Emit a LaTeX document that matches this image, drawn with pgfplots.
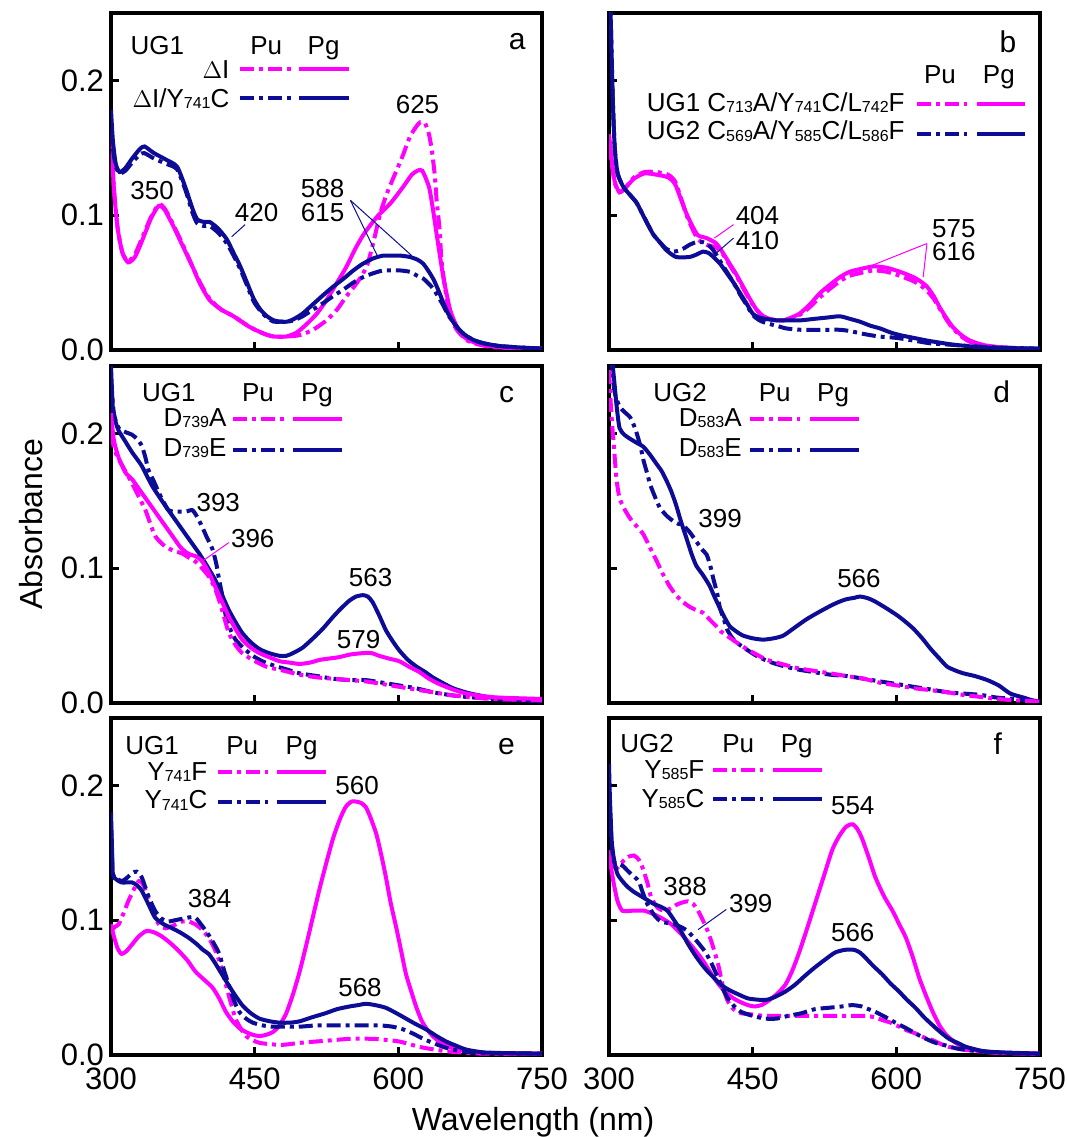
\documentclass[border=0pt]{standalone}
\usepackage{pgfplots}
\pgfplotsset{compat=1.18}
\usepackage{fontspec}
\setmainfont{Liberation Sans}
\definecolor{mg}{RGB}{255,0,255}
\definecolor{nv}{RGB}{12,12,150}
\newcommand\sbs[1]{\raisebox{-0.6pt}{\fontsize{8}{9}\selectfont #1}}
\newcommand\lf{\fontsize{13}{15}\selectfont}
\tikzset{dd/.style={dash pattern=on 7pt off 2.5pt on 2pt off 2.5pt},
  lt/.style={font=\lf, inner sep=0pt},
  ann/.style={font=\lf, inner sep=0pt},
  pl/.style={font=\fontsize{15}{17}\selectfont, inner sep=0pt, anchor=base},
  ld/.style={line width=2pt}}
\pgfplotsset{base/.style={
  width=215.5pt, height=168.5pt, scale only axis, anchor=south west,
  xmin=300, xmax=750, ymin=0, ymax=0.25,
  xtick={300,450,600,750}, ytick={0,0.1,0.2},
  tick align=inside, xtick pos=bottom, ytick pos=left,
  major tick length=4pt, every tick/.style={black, line width=1.5pt},
  axis line style={line width=1.8pt},
  clip mode=individual,
  tick label style={font=\fontsize{15.5}{17}\selectfont},
  xticklabel style={yshift=-3pt},
  /pgf/number format/assume math mode=true,
  yticklabel style={/pgf/number format/.cd, fixed, fixed zerofill, precision=1},
  every axis plot/.append style={line width=2pt, smooth, tension=0.4},
}}
\begin{document}
\begin{tikzpicture}
\path[use as bounding box] (0pt,0pt) rectangle (533.5pt,568.5pt);
% ---------------- a ----------------
\begin{axis}[base, at={(55.5pt,393.5pt)}, xticklabels={}]
\addplot[mg] coordinates {(300,0.163)(303,0.12)(307,0.09)(312,0.072)(318,0.065)(325,0.069)(333,0.082)(342,0.098)(350,0.107)(356,0.104)(365,0.092)(375,0.077)(385,0.062)(393,0.049)(403,0.037)(415,0.030)(428,0.025)(445,0.017)(460,0.012)(470,0.010)(483,0.010)(494,0.013)(504,0.019)(515,0.027)(525,0.037)(536,0.050)(546,0.062)(555,0.075)(564,0.086)(578,0.099)(592,0.109)(605,0.121)(614,0.130)(620,0.133)(625,0.133)(632,0.121)(636,0.105)(640,0.086)(647,0.054)(654,0.030)(660,0.019)(665,0.012)(672,0.008)(682,0.005)(706,0.002)(750,0.001)};
\addplot[mg,dd] coordinates {(300,0.16)(303,0.12)(307,0.09)(312,0.072)(318,0.066)(325,0.071)(333,0.084)(342,0.099)(350,0.108)(356,0.105)(365,0.093)(375,0.078)(385,0.062)(393,0.050)(403,0.038)(415,0.030)(428,0.025)(445,0.017)(460,0.012)(470,0.010)(483,0.010)(497,0.011)(511,0.015)(525,0.022)(536,0.030)(546,0.040)(557,0.050)(567,0.062)(574,0.080)(581,0.101)(588,0.116)(595,0.128)(604,0.143)(612,0.158)(619,0.166)(623,0.169)(628,0.168)(632,0.160)(635,0.148)(638,0.130)(640,0.111)(643,0.090)(645,0.067)(648,0.050)(652,0.032)(656,0.022)(661,0.015)(670,0.008)(679,0.005)(700,0.002)(750,0.001)};
\addplot[nv] coordinates {(300,0.178)(302,0.155)(305,0.138)(309,0.132)(315,0.135)(322,0.142)(330,0.149)(335,0.151)(345,0.146)(358,0.141)(369,0.136)(378,0.120)(385,0.105)(390,0.097)(397,0.095)(403,0.095)(412,0.090)(421,0.082)(428,0.072)(435,0.062)(442,0.050)(449,0.038)(456,0.030)(463,0.025)(470,0.022)(477,0.021)(484,0.021)(491,0.023)(500,0.027)(511,0.034)(522,0.041)(532,0.047)(543,0.053)(553,0.059)(563,0.064)(574,0.068)(584,0.070)(592,0.070)(602,0.070)(612,0.069)(620,0.067)(626,0.064)(632,0.058)(637,0.052)(642,0.044)(647,0.035)(652,0.027)(658,0.020)(665,0.014)(672,0.010)(680,0.007)(689,0.005)(705,0.003)(724,0.002)(750,0.001)};
\addplot[nv,dd] coordinates {(300,0.170)(302,0.150)(305,0.136)(309,0.131)(315,0.133)(322,0.139)(330,0.145)(335,0.146)(345,0.142)(358,0.138)(369,0.134)(378,0.118)(385,0.102)(390,0.094)(397,0.092)(403,0.092)(412,0.087)(421,0.079)(428,0.070)(435,0.060)(442,0.048)(449,0.036)(456,0.029)(463,0.024)(470,0.021)(477,0.021)(484,0.021)(491,0.022)(500,0.025)(511,0.030)(522,0.035)(532,0.040)(543,0.045)(553,0.050)(563,0.054)(574,0.057)(584,0.059)(592,0.059)(602,0.059)(612,0.058)(620,0.055)(626,0.053)(632,0.049)(637,0.045)(642,0.039)(647,0.033)(652,0.026)(658,0.020)(665,0.014)(672,0.010)(680,0.007)(689,0.005)(705,0.003)(724,0.002)(750,0.001)};
\node[lt, anchor=base west] at (axis cs:320,0.219) {UG1};
\node[lt, anchor=base] at (axis cs:462,0.219) {Pu};
\node[lt, anchor=base] at (axis cs:522,0.219) {Pg};
\node[lt, anchor=base east] at (axis cs:424,0.2015) {$\Delta$I};
\node[lt, anchor=base east] at (axis cs:424,0.180) {$\Delta$I/Y\sbs{741}C};
\draw[ld,mg,dd] (axis cs:435,0.2085) -- (axis cs:489,0.2085);
\draw[ld,mg] (axis cs:496,0.2085) -- (axis cs:548,0.2085);
\draw[ld,nv,dd] (axis cs:435,0.187) -- (axis cs:489,0.187);
\draw[ld,nv] (axis cs:496,0.187) -- (axis cs:548,0.187);
\node[pl] at (axis cs:724,0.2226) {a};
\node[ann] at (axis cs:343,0.118) {350};
\node[ann] at (axis cs:452,0.102) {420};
\draw[nv, line width=0.5pt] (axis cs:440,0.093) -- (axis cs:426,0.084);
\node[ann] at (axis cs:521,0.120) {588};
\node[ann] at (axis cs:521,0.102) {615};
\draw[nv, line width=0.5pt] (axis cs:550,0.111) -- (axis cs:578,0.070);
\draw[nv, line width=0.5pt] (axis cs:550,0.111) -- (axis cs:614,0.070);
\node[ann] at (axis cs:620,0.182) {625};
\end{axis}
% ---------------- b ----------------
\begin{axis}[base, at={(304.5pt,393.5pt)}, xticklabels={}, yticklabels={}]
\addplot[mg] coordinates {(300,0.160)(303,0.140)(306,0.125)(311,0.117)(318,0.121)(326,0.127)(337,0.131)(350,0.130)(362,0.128)(369,0.123)(375,0.112)(381,0.101)(387,0.092)(393,0.085)(402,0.083)(412,0.079)(419,0.072)(426,0.064)(433,0.056)(440,0.047)(447,0.038)(454,0.030)(461,0.025)(468,0.023)(475,0.022)(482,0.022)(490,0.024)(499,0.027)(510,0.034)(520,0.042)(530,0.048)(541,0.054)(551,0.058)(562,0.060)(576,0.062)(590,0.061)(604,0.058)(618,0.054)(625,0.051)(632,0.047)(639,0.040)(645,0.032)(652,0.024)(659,0.017)(668,0.011)(677,0.007)(689,0.004)(701,0.0025)(720,0.0015)(750,0.0005)};
\addplot[mg,dd] coordinates {(300,0.158)(303,0.138)(306,0.124)(311,0.117)(318,0.121)(326,0.128)(337,0.132)(350,0.132)(362,0.130)(369,0.125)(375,0.113)(381,0.100)(387,0.090)(393,0.082)(402,0.078)(412,0.076)(419,0.071)(426,0.063)(433,0.055)(440,0.046)(447,0.037)(454,0.030)(461,0.025)(468,0.023)(475,0.022)(482,0.022)(490,0.023)(499,0.026)(510,0.032)(520,0.039)(530,0.045)(541,0.051)(551,0.055)(562,0.057)(576,0.059)(590,0.058)(604,0.055)(618,0.051)(625,0.048)(632,0.044)(639,0.038)(645,0.031)(652,0.023)(659,0.016)(668,0.010)(677,0.006)(689,0.004)(701,0.0025)(720,0.0015)(750,0.0005)};
\addplot[nv] coordinates {(300,0.30)(302,0.24)(304,0.185)(306,0.150)(309,0.131)(315,0.121)(322,0.115)(329,0.109)(337,0.098)(346,0.086)(353,0.080)(360,0.074)(370,0.069)(384,0.069)(392,0.071)(398,0.073)(404,0.072)(409,0.069)(416,0.064)(423,0.057)(430,0.050)(437,0.042)(444,0.034)(450,0.027)(457,0.024)(464,0.023)(475,0.022)(485,0.022)(500,0.022)(513,0.023)(527,0.024)(541,0.025)(552,0.023)(562,0.021)(573,0.018)(583,0.016)(594,0.013)(604,0.011)(618,0.009)(632,0.007)(645,0.0055)(659,0.004)(673,0.003)(687,0.002)(710,0.0015)(750,0.001)};
\addplot[nv,dd] coordinates {(300,0.30)(302,0.24)(304,0.185)(306,0.150)(309,0.131)(315,0.121)(322,0.115)(329,0.109)(337,0.098)(346,0.086)(353,0.080)(360,0.075)(368,0.073)(377,0.075)(384,0.078)(391,0.080)(398,0.080)(402,0.079)(409,0.074)(416,0.066)(423,0.058)(430,0.050)(437,0.041)(444,0.033)(450,0.026)(457,0.022)(464,0.020)(475,0.018)(485,0.016)(500,0.015)(513,0.015)(527,0.015)(541,0.015)(552,0.014)(565,0.012)(582,0.010)(600,0.009)(618,0.007)(635,0.005)(655,0.004)(675,0.003)(700,0.002)(750,0.001)};
\node[lt, anchor=base] at (axis cs:645.6,0.198) {Pu};
\node[lt, anchor=base] at (axis cs:707,0.198) {Pg};
\node[lt, anchor=base east] at (axis cs:609,0.177) {UG1 C\sbs{713}A/Y\sbs{741}C/L\sbs{742}F};
\node[lt, anchor=base east] at (axis cs:609,0.1558) {UG2 C\sbs{569}A/Y\sbs{585}C/L\sbs{586}F};
\draw[ld,mg,dd] (axis cs:621.5,0.1825) -- (axis cs:674,0.1825);
\draw[ld,mg] (axis cs:684,0.1825) -- (axis cs:734,0.1825);
\draw[ld,nv,dd] (axis cs:621.5,0.160) -- (axis cs:674,0.160);
\draw[ld,nv] (axis cs:684,0.160) -- (axis cs:734,0.160);
\node[pl] at (axis cs:716.6,0.221) {b};
\node[ann] at (axis cs:455,0.100) {404};
\node[ann] at (axis cs:455,0.081) {410};
\draw[mg, line width=0.5pt] (axis cs:430,0.093) -- (axis cs:410,0.083);
\draw[nv, line width=0.5pt] (axis cs:430,0.083) -- (axis cs:409,0.070);
\node[ann] at (axis cs:660,0.090) {575};
\node[ann] at (axis cs:660,0.073) {616};
\draw[mg, line width=0.5pt] (axis cs:632,0.079) -- (axis cs:572,0.062);
\draw[mg, line width=0.5pt] (axis cs:632,0.079) -- (axis cs:628,0.054);
\end{axis}
% ---------------- c ----------------
\begin{axis}[base, at={(55.5pt,217pt)}, xticklabels={}]
\addplot[nv] coordinates {(300,0.250)(302,0.218)(305,0.208)(308,0.202)(315,0.194)(322,0.186)(332,0.176)(343,0.161)(357,0.146)(365,0.138)(374,0.129)(383,0.120)(392,0.111)(400,0.102)(409,0.091)(416,0.080)(423,0.069)(430,0.060)(437,0.052)(446,0.045)(455,0.040)(465,0.037)(476,0.035)(483,0.035)(490,0.037)(500,0.041)(511,0.048)(521,0.055)(532,0.064)(540,0.070)(549,0.076)(556,0.079)(563,0.080)(568,0.079)(573,0.075)(580,0.065)(587,0.054)(594,0.046)(601,0.039)(610,0.032)(619,0.027)(628,0.023)(636,0.019)(646,0.015)(657,0.011)(670,0.008)(682,0.006)(706,0.003)(750,0.0015)};
\addplot[nv,dd] coordinates {(300,0.240)(303,0.215)(308,0.204)(315,0.201)(322,0.199)(327,0.196)(332,0.191)(336,0.182)(339,0.173)(345,0.164)(350,0.156)(355,0.149)(360,0.143)(366,0.142)(371,0.142)(378,0.142)(385,0.143)(390,0.138)(395,0.131)(400,0.123)(406,0.114)(410,0.103)(413,0.091)(417,0.077)(420,0.064)(425,0.054)(430,0.047)(438,0.041)(448,0.035)(458,0.031)(469,0.028)(483,0.025)(497,0.022)(515,0.020)(532,0.018)(549,0.017)(566,0.017)(584,0.015)(601,0.013)(618,0.011)(636,0.008)(653,0.006)(671,0.0045)(700,0.003)(750,0.001)};
\addplot[mg] coordinates {(300,0.215)(303,0.195)(308,0.182)(315,0.171)(322,0.166)(332,0.156)(341,0.147)(350,0.138)(358,0.130)(367,0.121)(372,0.116)(378,0.112)(383,0.110)(388,0.109)(394,0.106)(399,0.101)(404,0.094)(409,0.086)(416,0.075)(423,0.064)(430,0.055)(437,0.047)(446,0.041)(455,0.037)(465,0.034)(476,0.031)(486,0.030)(497,0.029)(508,0.030)(518,0.032)(528,0.033)(538,0.034)(550,0.036)(563,0.037)(572,0.037)(580,0.035)(590,0.033)(601,0.031)(611,0.027)(622,0.023)(632,0.018)(643,0.014)(657,0.010)(671,0.007)(690,0.005)(706,0.004)(750,0.003)};
\addplot[mg,dd] coordinates {(300,0.200)(304,0.187)(308,0.181)(315,0.172)(322,0.163)(329,0.153)(336,0.143)(341,0.133)(346,0.124)(352,0.119)(357,0.116)(365,0.113)(374,0.111)(381,0.108)(388,0.105)(395,0.100)(402,0.094)(408,0.086)(413,0.076)(418,0.064)(423,0.052)(430,0.043)(437,0.037)(448,0.032)(462,0.027)(480,0.024)(497,0.021)(515,0.019)(532,0.018)(549,0.017)(566,0.016)(584,0.014)(601,0.012)(618,0.010)(636,0.008)(653,0.006)(671,0.0045)(700,0.003)(750,0.002)};
\node[lt, anchor=base west] at (axis cs:332,0.2235) {UG1};
\node[lt, anchor=base] at (axis cs:453.5,0.2235) {Pu};
\node[lt, anchor=base] at (axis cs:515,0.2235) {Pg};
\node[lt, anchor=base east] at (axis cs:421,0.205) {D\sbs{739}A};
\node[lt, anchor=base east] at (axis cs:421,0.1827) {D\sbs{739}E};
\draw[ld,mg,dd] (axis cs:427,0.2105) -- (axis cs:482,0.2105);
\draw[ld,mg] (axis cs:490,0.2105) -- (axis cs:541,0.2105);
\draw[ld,nv,dd] (axis cs:427,0.188) -- (axis cs:482,0.188);
\draw[ld,nv] (axis cs:490,0.188) -- (axis cs:541,0.188);
\node[pl] at (axis cs:713,0.2226) {c};
\node[ann] at (axis cs:412,0.149) {393};
\node[ann] at (axis cs:448,0.122) {396};
\draw[mg, line width=0.5pt] (axis cs:423,0.119) -- (axis cs:395,0.105);
\node[ann] at (axis cs:571,0.093) {563};
\node[ann] at (axis cs:558.5,0.047) {579};
\end{axis}
% ---------------- d ----------------
\begin{axis}[base, at={(304.5pt,217pt)}, xticklabels={}, yticklabels={}]
\addplot[nv] coordinates {(300,0.30)(302,0.27)(304,0.250)(306,0.235)(308,0.220)(311,0.204)(316,0.199)(322,0.196)(329,0.193)(336,0.190)(343,0.184)(350,0.177)(355,0.172)(360,0.165)(365,0.157)(370,0.147)(375,0.135)(381,0.122)(386,0.111)(391,0.102)(398,0.095)(405,0.087)(410,0.079)(416,0.070)(421,0.063)(426,0.057)(433,0.053)(440,0.050)(450,0.048)(461,0.047)(472,0.048)(482,0.050)(494,0.056)(506,0.062)(518,0.067)(531,0.072)(540,0.075)(548,0.077)(556,0.078)(562,0.079)(569,0.078)(576,0.076)(588,0.071)(601,0.065)(610,0.060)(618,0.055)(627,0.048)(636,0.040)(645,0.033)(653,0.027)(662,0.024)(670,0.022)(682,0.020)(695,0.017)(707,0.013)(719,0.007)(733,0.004)(742,0.002)(750,0.001)};
\addplot[nv,dd] coordinates {(300,0.30)(303,0.25)(306,0.230)(311,0.220)(316,0.216)(322,0.212)(326,0.206)(329,0.200)(333,0.190)(336,0.180)(340,0.170)(343,0.162)(348,0.153)(353,0.145)(360,0.139)(367,0.135)(372,0.133)(377,0.132)(384,0.127)(391,0.120)(397,0.114)(402,0.110)(406,0.101)(409,0.092)(413,0.081)(416,0.070)(420,0.062)(423,0.055)(428,0.049)(433,0.045)(443,0.040)(454,0.035)(466,0.031)(479,0.028)(496,0.025)(513,0.023)(531,0.021)(548,0.020)(566,0.018)(583,0.016)(601,0.014)(618,0.012)(636,0.010)(653,0.008)(670,0.007)(688,0.006)(705,0.004)(723,0.003)(750,0.001)};
\addplot[mg,dd] coordinates {(300,0.247)(302,0.220)(304,0.200)(306,0.182)(308,0.165)(311,0.152)(316,0.144)(322,0.137)(329,0.131)(336,0.125)(343,0.115)(350,0.105)(356,0.096)(363,0.087)(370,0.080)(377,0.075)(385,0.071)(391,0.069)(398,0.067)(405,0.062)(412,0.057)(417,0.053)(423,0.050)(433,0.045)(444,0.040)(454,0.036)(465,0.032)(480,0.029)(496,0.026)(513,0.024)(531,0.022)(548,0.020)(566,0.018)(583,0.015)(601,0.013)(618,0.011)(636,0.0095)(653,0.008)(670,0.006)(688,0.0045)(705,0.003)(725,0.002)(750,0.001)};
\node[lt, anchor=base west] at (axis cs:346,0.2235) {UG2};
\node[lt, anchor=base] at (axis cs:473,0.2235) {Pu};
\node[lt, anchor=base] at (axis cs:534,0.2235) {Pg};
\node[lt, anchor=base east] at (axis cs:439,0.205) {D\sbs{583}A};
\node[lt, anchor=base east] at (axis cs:439,0.1827) {D\sbs{583}E};
\draw[ld,mg,dd] (axis cs:447,0.2105) -- (axis cs:499,0.2105);
\draw[ld,mg] (axis cs:510,0.2105) -- (axis cs:561,0.2105);
\draw[ld,nv,dd] (axis cs:447,0.188) -- (axis cs:499,0.188);
\draw[ld,nv] (axis cs:510,0.188) -- (axis cs:561,0.188);
\node[pl] at (axis cs:710,0.2226) {d};
\node[ann] at (axis cs:416,0.137) {399};
\node[ann] at (axis cs:561,0.092) {566};
\end{axis}
% ---------------- e ----------------
\begin{axis}[base, at={(55.5pt,41pt)}]
\addplot[mg] coordinates {(300,0.097)(303,0.088)(307,0.079)(311,0.075)(316,0.077)(322,0.082)(329,0.088)(337,0.092)(345,0.091)(353,0.088)(362,0.083)(371,0.077)(380,0.070)(388,0.062)(397,0.056)(406,0.050)(413,0.042)(420,0.032)(427,0.025)(434,0.020)(441,0.017)(448,0.015)(455,0.014)(462,0.015)(469,0.017)(476,0.022)(483,0.031)(490,0.045)(497,0.062)(504,0.082)(511,0.103)(518,0.124)(525,0.143)(532,0.161)(539,0.175)(545,0.184)(551,0.188)(556,0.188)(561,0.187)(566,0.184)(571,0.176)(577,0.164)(582,0.149)(587,0.132)(592,0.113)(598,0.094)(603,0.077)(608,0.060)(614,0.046)(619,0.035)(624,0.026)(629,0.020)(636,0.014)(643,0.010)(653,0.006)(664,0.004)(689,0.0015)(750,0.001)};
\addplot[mg,dd] coordinates {(300,0.092)(304,0.095)(308,0.097)(313,0.105)(318,0.114)(324,0.123)(329,0.129)(333,0.127)(336,0.122)(341,0.112)(346,0.102)(351,0.096)(357,0.094)(365,0.096)(374,0.099)(381,0.099)(388,0.097)(395,0.093)(402,0.087)(408,0.079)(413,0.070)(417,0.060)(420,0.052)(425,0.039)(430,0.027)(436,0.019)(441,0.014)(448,0.011)(455,0.009)(467,0.008)(479,0.0075)(497,0.009)(514,0.010)(532,0.011)(549,0.012)(573,0.012)(590,0.011)(601,0.010)(612,0.008)(622,0.006)(638,0.004)(654,0.0025)(689,0.001)(750,0.001)};
\addplot[nv] coordinates {(300,0.180)(301,0.155)(302,0.134)(306,0.130)(311,0.128)(316,0.128)(322,0.128)(327,0.126)(332,0.122)(339,0.112)(346,0.102)(355,0.097)(364,0.094)(372,0.091)(381,0.087)(390,0.082)(396,0.078)(402,0.075)(408,0.069)(414,0.062)(420,0.055)(428,0.046)(437,0.037)(446,0.031)(455,0.027)(466,0.025)(476,0.024)(487,0.024)(497,0.025)(510,0.028)(524,0.031)(536,0.034)(549,0.036)(558,0.037)(566,0.038)(576,0.037)(587,0.035)(598,0.031)(608,0.027)(618,0.023)(629,0.019)(640,0.014)(650,0.010)(660,0.007)(671,0.004)(688,0.002)(706,0.0015)(750,0.001)};
\addplot[nv,dd] coordinates {(300,0.170)(301,0.150)(302,0.134)(306,0.131)(311,0.129)(316,0.131)(322,0.135)(327,0.136)(332,0.132)(339,0.118)(346,0.107)(353,0.101)(360,0.099)(367,0.100)(374,0.101)(381,0.102)(388,0.102)(395,0.096)(402,0.089)(408,0.082)(413,0.075)(418,0.063)(423,0.052)(428,0.041)(434,0.032)(441,0.027)(448,0.024)(458,0.022)(469,0.021)(483,0.021)(497,0.021)(515,0.022)(532,0.022)(549,0.022)(566,0.022)(580,0.022)(594,0.021)(605,0.019)(615,0.016)(626,0.012)(636,0.009)(647,0.006)(657,0.004)(675,0.002)(700,0.0015)(750,0.001)};
\node[lt, anchor=base west] at (axis cs:314.6,0.2226) {UG1};
\node[lt, anchor=base] at (axis cs:437,0.2226) {Pu};
\node[lt, anchor=base] at (axis cs:499,0.2226) {Pg};
\node[lt, anchor=base east] at (axis cs:401,0.204) {Y\sbs{741}F};
\node[lt, anchor=base east] at (axis cs:401,0.1825) {Y\sbs{741}C};
\draw[ld,mg,dd] (axis cs:412,0.210) -- (axis cs:464,0.210);
\draw[ld,mg] (axis cs:473,0.210) -- (axis cs:525,0.210);
\draw[ld,nv,dd] (axis cs:412,0.188) -- (axis cs:464,0.188);
\draw[ld,nv] (axis cs:473,0.188) -- (axis cs:525,0.188);
\node[pl] at (axis cs:713,0.2226) {e};
\node[ann] at (axis cs:403,0.116) {384};
\node[ann] at (axis cs:557,0.200) {560};
\node[ann] at (axis cs:560,0.050) {568};
\end{axis}
% ---------------- f ----------------
\begin{axis}[base, at={(304.5pt,41pt)}, yticklabels={}]
\addplot[mg] coordinates {(300,0.152)(302,0.140)(305,0.127)(309,0.114)(314,0.107)(323,0.107)(337,0.107)(351,0.103)(365,0.097)(379,0.087)(393,0.075)(400,0.068)(407,0.060)(414,0.053)(421,0.047)(430,0.042)(438,0.039)(445,0.037)(452,0.036)(459,0.037)(466,0.040)(475,0.045)(484,0.052)(491,0.062)(498,0.075)(506,0.092)(515,0.112)(524,0.132)(533,0.152)(540,0.162)(547,0.169)(552,0.171)(555,0.171)(559,0.168)(564,0.161)(571,0.147)(578,0.132)(587,0.118)(596,0.107)(603,0.097)(610,0.087)(617,0.073)(624,0.057)(631,0.044)(638,0.032)(645,0.022)(652,0.015)(662,0.009)(673,0.005)(690,0.0025)(708,0.0015)(750,0.001)};
\addplot[mg,dd] coordinates {(300,0.145)(304,0.140)(309,0.139)(315,0.144)(320,0.147)(326,0.148)(331,0.145)(335,0.139)(340,0.128)(344,0.117)(351,0.109)(358,0.107)(365,0.109)(372,0.112)(382,0.114)(388,0.112)(393,0.107)(398,0.100)(403,0.092)(407,0.084)(410,0.077)(414,0.067)(417,0.057)(420,0.048)(424,0.040)(430,0.034)(438,0.031)(450,0.030)(463,0.029)(480,0.029)(498,0.029)(515,0.029)(533,0.029)(550,0.029)(568,0.029)(577,0.028)(585,0.026)(594,0.024)(603,0.021)(612,0.018)(620,0.016)(629,0.013)(638,0.011)(647,0.008)(655,0.006)(670,0.004)(690,0.0025)(720,0.0015)(750,0.001)};
\addplot[nv] coordinates {(300,0.216)(301,0.190)(303,0.157)(306,0.142)(309,0.134)(314,0.129)(319,0.125)(326,0.121)(333,0.118)(340,0.115)(347,0.112)(354,0.110)(361,0.107)(368,0.100)(375,0.092)(382,0.083)(389,0.075)(396,0.068)(403,0.062)(410,0.057)(417,0.052)(426,0.048)(435,0.045)(445,0.042)(456,0.041)(465,0.041)(473,0.043)(484,0.047)(494,0.052)(505,0.059)(515,0.065)(526,0.071)(536,0.076)(546,0.078)(556,0.078)(562,0.076)(568,0.072)(576,0.066)(585,0.060)(594,0.053)(603,0.047)(611,0.041)(620,0.035)(629,0.028)(638,0.022)(646,0.017)(655,0.012)(664,0.009)(673,0.006)(690,0.003)(708,0.002)(750,0.001)};
\addplot[nv,dd] coordinates {(300,0.200)(302,0.165)(305,0.144)(310,0.142)(315,0.140)(319,0.137)(325,0.133)(331,0.129)(335,0.121)(340,0.112)(347,0.104)(354,0.099)(361,0.098)(368,0.097)(375,0.095)(382,0.092)(391,0.085)(400,0.077)(407,0.068)(414,0.057)(419,0.049)(424,0.042)(431,0.036)(438,0.032)(450,0.029)(463,0.027)(475,0.027)(487,0.029)(501,0.031)(515,0.034)(529,0.035)(543,0.036)(554,0.037)(564,0.036)(571,0.034)(578,0.032)(589,0.028)(599,0.024)(610,0.020)(620,0.016)(631,0.012)(641,0.009)(652,0.007)(662,0.005)(676,0.0035)(690,0.0025)(720,0.0015)(750,0.001)};
\node[lt, anchor=base west] at (axis cs:311.5,0.2243) {UG2};
\node[lt, anchor=base] at (axis cs:435,0.2243) {Pu};
\node[lt, anchor=base] at (axis cs:496,0.2243) {Pg};
\node[lt, anchor=base east] at (axis cs:400,0.2053) {Y\sbs{585}F};
\node[lt, anchor=base east] at (axis cs:400,0.1838) {Y\sbs{585}C};
\draw[ld,mg,dd] (axis cs:408.5,0.2114) -- (axis cs:461,0.2114);
\draw[ld,mg] (axis cs:471,0.2114) -- (axis cs:522,0.2114);
\draw[ld,nv,dd] (axis cs:408.5,0.1897) -- (axis cs:461,0.1897);
\draw[ld,nv] (axis cs:471,0.1897) -- (axis cs:522,0.1897);
\node[pl] at (axis cs:706,0.2226) {f};
\node[ann] at (axis cs:379.5,0.125) {388};
\node[ann] at (axis cs:448,0.112) {399};
\draw[nv, line width=0.5pt] (axis cs:422.5,0.108) -- (axis cs:393,0.093);
\node[ann] at (axis cs:554.5,0.185) {554};
\node[ann] at (axis cs:554.5,0.091) {566};
\end{axis}
\node[font=\fontsize{16}{18}\selectfont, anchor=base, inner sep=0pt] at (266.5pt,3pt) {Wavelength (nm)};
\node[font=\fontsize{16}{18}\selectfont, anchor=base, inner sep=0pt, rotate=90] at (21pt,306.5pt) {Absorbance};
\end{tikzpicture}
\end{document}
